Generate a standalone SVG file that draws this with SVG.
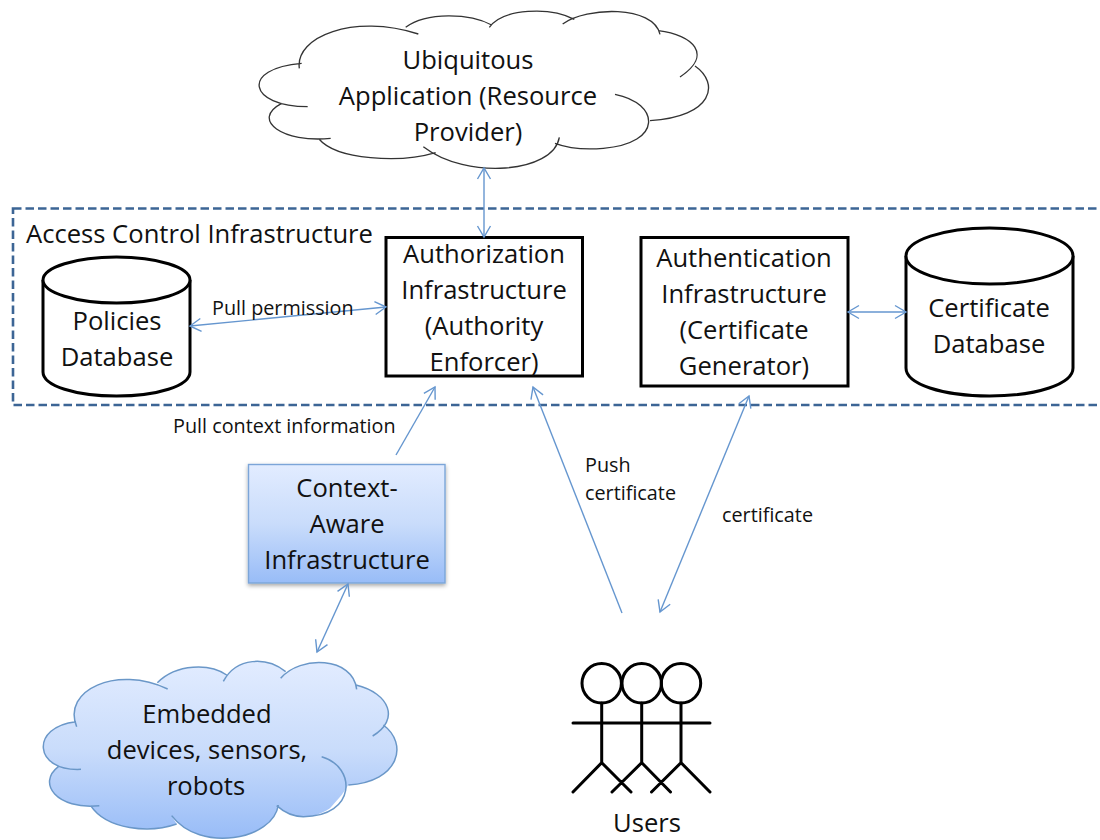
<svg xmlns="http://www.w3.org/2000/svg" width="1100" height="840" viewBox="0 0 1100 840">
<defs>
<linearGradient id="blue" x1="0" y1="0" x2="0" y2="1"><stop offset="0" stop-color="#e2ecff"/><stop offset="0.5" stop-color="#c9dcfb"/><stop offset="1" stop-color="#98bcf7"/></linearGradient>
<filter id="shadow" x="-5%" y="-5%" width="110%" height="115%"><feDropShadow dx="0" dy="2" stdDeviation="2" flood-color="#000" flood-opacity="0.35"/></filter>
<marker id="open" viewBox="-13 -8 15 16" refX="0" refY="0" markerWidth="15" markerHeight="16" markerUnits="userSpaceOnUse" orient="auto-start-reverse"><path d="M-11 -6.5L0 0L-11 6.5" fill="none" stroke="#6596cf" stroke-width="1.4"/></marker>
</defs>
<style>
text{font-family:"Open Sans","Noto Sans","Liberation Sans",sans-serif;fill:#111;text-anchor:middle}
.b{font-size:25.6px}
.s{font-size:19.8px}
.st{text-anchor:start}
.box{fill:#fff;stroke:#000;stroke-width:3}
.cyl{fill:#fff;stroke:#000;stroke-width:3}
.c{fill:none;stroke:#6596cf;stroke-width:1.4;marker-start:url(#open);marker-end:url(#open)}
.c1{fill:none;stroke:#6596cf;stroke-width:1.4;marker-end:url(#open)}
.fig{fill:none;stroke:#000;stroke-width:3;stroke-linecap:round}
</style>
<g id="cloud-app">
<g transform="translate(240 0) scale(0.33333)">
<path fill="none" stroke="#333" stroke-width="4" d="M178 205C165 110 340 40 535 102M497 82C560 35 690 40 755 75M748 82C790 25 930 20 1003 58M968 72C1040 20 1240 15 1260 103M1255 92C1360 105 1420 165 1320 231M1365 198C1440 250 1420 350 1230 362M1125 283C1260 310 1270 430 1090 445C1030 450 985 445 945 430M958 412C940 520 680 540 550 440M587 458C480 490 290 480 237 417M272 415C130 430 30 360 125 310M203 320C25 320 0 205 185 190"/>
</g>
<text class="b" x="468" y="69">Ubiquitous</text>
<text class="b" x="468" y="105">Application (Resource</text>
<text class="b" x="468" y="141">Provider)</text>
</g>
<g id="access-control">
<rect x="13" y="208.5" width="1100" height="196.5" fill="none" stroke="#3c6595" stroke-width="2.6" stroke-dasharray="8.5 4"/>
<text class="b st" x="26" y="243">Access Control Infrastructure</text>
</g>
<g id="policies-db">
<path class="cyl" d="M43 280V372C43 386 76 396 116.5 396S190 386 190 372V280"/>
<ellipse class="cyl" cx="116.5" cy="280" rx="73.5" ry="23"/>
<text class="b" x="117" y="330">Policies</text>
<text class="b" x="117" y="366">Database</text>
</g>
<g id="authorization">
<rect class="box" x="386" y="237.5" width="196.5" height="138.5"/>
<text class="b" x="484" y="263">Authorization</text>
<text class="b" x="484" y="299">Infrastructure</text>
<text class="b" x="484" y="335">(Authority</text>
<text class="b" x="484" y="371">Enforcer)</text>
</g>
<g id="authentication">
<rect class="box" x="641" y="237.5" width="207" height="148.5"/>
<text class="b" x="744" y="267">Authentication</text>
<text class="b" x="744" y="303">Infrastructure</text>
<text class="b" x="744" y="339">(Certificate</text>
<text class="b" x="744" y="375">Generator)</text>
</g>
<g id="certificate-db">
<path class="cyl" d="M906 256V368C906 384 942 396 989.5 396S1073 384 1073 368V256"/>
<ellipse class="cyl" cx="989.5" cy="256" rx="83.5" ry="28"/>
<text class="b" x="989" y="317">Certificate</text>
<text class="b" x="989" y="353">Database</text>
</g>
<g id="context-aware">
<rect x="248.5" y="464.5" width="196.5" height="118.5" fill="url(#blue)" stroke="#7ba5d8" stroke-width="1.4" filter="url(#shadow)"/>
<text class="b" x="347" y="497">Context-</text>
<text class="b" x="347" y="533">Aware</text>
<text class="b" x="347" y="569">Infrastructure</text>
</g>
<g id="cloud-devices">
<g transform="translate(20 640) scale(0.33333)">
<path fill="url(#blue)" d="M170 260C125 150 290 75 443 147L412 128C470 70 570 70 620 105L610 124C650 50 740 50 797 95L782 115C840 45 1000 50 1010 148L1008 135C1110 160 1140 240 1058 288L1090 255C1165 310 1140 425 985 435L965 465L930 505C900 525 875 530 850 530C820 530 790 515 770 497L775 495C760 600 540 640 455 527L470 552C390 580 260 570 212 497L238 497C110 510 50 430 115 380L183 388C40 395 30 260 168 245Z"/>
<path fill="none" stroke="#6a97c8" stroke-width="4.5" d="M170 260C125 150 290 75 443 147M412 128C470 70 570 70 620 105M610 124C650 50 740 50 797 95M782 115C840 45 1000 50 1010 148M1008 135C1110 160 1140 240 1058 288M1090 255C1165 310 1140 425 985 435M905 350C1010 380 1010 530 850 530C820 530 790 515 770 497M775 495C760 600 540 640 455 527M470 552C390 580 260 570 212 497M238 497C110 510 50 430 115 380M183 388C40 395 30 260 168 245"/>
</g>
<text class="b" x="207" y="723">Embedded</text>
<text class="b" x="207" y="759">devices, sensors,</text>
<text class="b" x="206" y="795">robots</text>
</g>
<g id="users">
<circle class="fig" cx="601.7" cy="683.3" r="19.7"/>
<circle class="fig" cx="641.7" cy="683.3" r="19.7"/>
<circle class="fig" cx="681" cy="683.3" r="19.7"/>
<path class="fig" d="M573 723H710M601.7 703V762.7M641.7 703V762.7M681 703V762.7M573 792L601.7 762.7L631 792M612 792L641.7 762.7L670.5 792M651.5 792L681 762.7L710 792"/>
<text class="b" x="647" y="832">Users</text>
</g>
<g id="connectors">
<path class="c" d="M484 168V237"/>
<path class="c" d="M190 326L386 307"/>
<path class="c" d="M848 312H906"/>
<path class="c1" d="M396 455L435 387"/>
<path class="c1" d="M622 613L533 387"/>
<path class="c" d="M660 612L749 396"/>
<path class="c" d="M348 584L317 652"/>
</g>
<g id="labels">
<text class="s st" x="212" y="315">Pull permission</text>
<text class="s st" x="173" y="433">Pull context information</text>
<text class="s st" x="585" y="472">Push</text>
<text class="s st" x="585" y="500">certificate</text>
<text class="s st" x="722" y="522">certificate</text>
</g>
</svg>
